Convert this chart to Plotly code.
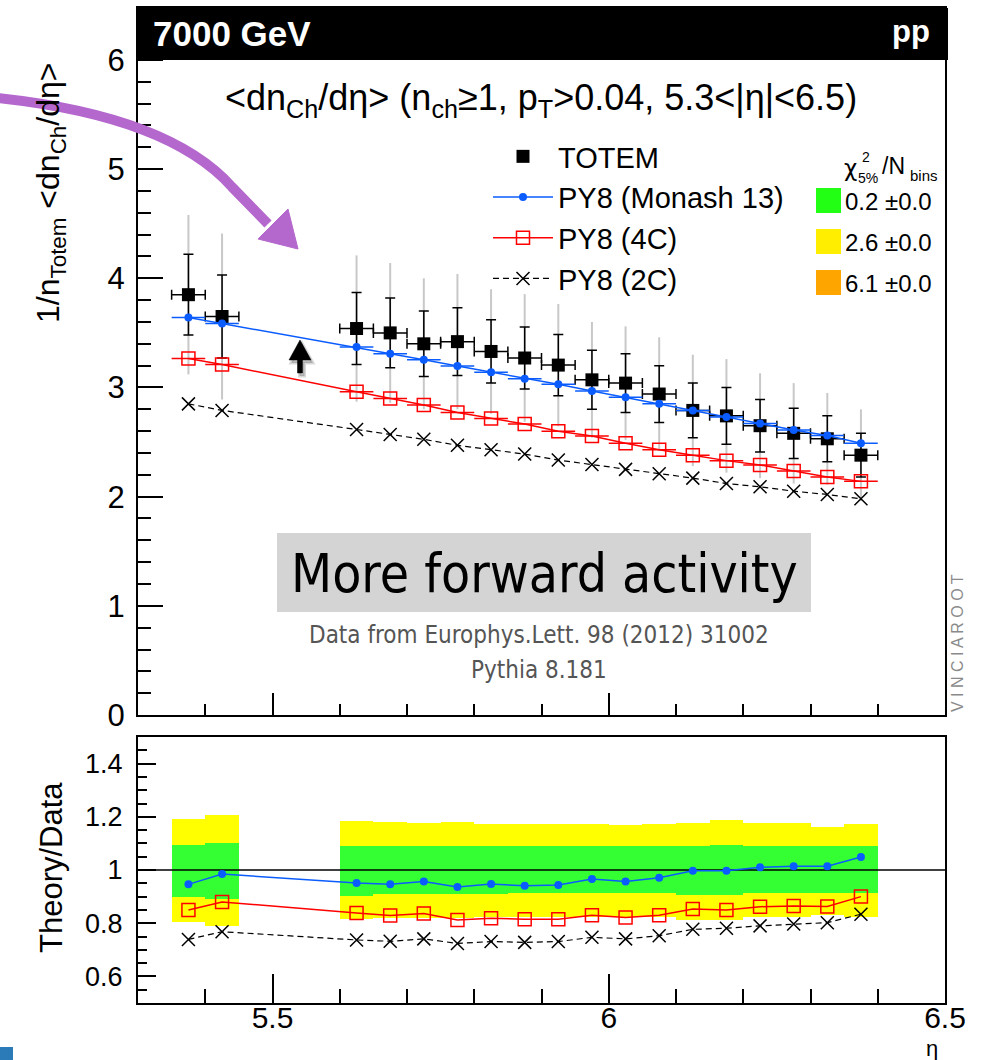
import plotly.graph_objects as go

# ---------------- data ----------------
eta = [5.375, 5.425, 5.625, 5.675, 5.725, 5.775, 5.825, 5.875, 5.925,
       5.975, 6.025, 6.075, 6.125, 6.175, 6.225, 6.275, 6.325, 6.375]
bin_halfwidth = [0.025] * 18

totem = [3.85, 3.65, 3.54, 3.50, 3.40, 3.42, 3.33, 3.27, 3.205,
         3.07, 3.04, 2.94, 2.79, 2.74, 2.65, 2.58, 2.53, 2.38]
totem_stat = [0.37, 0.38, 0.33, 0.32, 0.30, 0.31, 0.29, 0.285, 0.28,
              0.27, 0.27, 0.26, 0.25, 0.26, 0.24, 0.23, 0.21, 0.20]
totem_tot = [0.73, 0.76, 0.67, 0.64, 0.60, 0.62, 0.57, 0.585, 0.56,
             0.53, 0.52, 0.52, 0.51, 0.52, 0.48, 0.46, 0.42, 0.42]

monash = [3.64, 3.585, 3.37, 3.31, 3.255, 3.196, 3.14, 3.08, 3.03,
          2.967, 2.91, 2.85, 2.79, 2.73, 2.67, 2.61, 2.56, 2.49]
py4c = [3.265, 3.21, 2.96, 2.90, 2.84, 2.77, 2.715, 2.665, 2.60,
        2.555, 2.49, 2.43, 2.38, 2.33, 2.29, 2.234, 2.18, 2.14]
py2c = [2.85, 2.79, 2.615, 2.57, 2.525, 2.47, 2.43, 2.39, 2.335,
        2.295, 2.25, 2.21, 2.17, 2.12, 2.09, 2.05, 2.02, 1.98]

r_monash = [0.946, 0.985, 0.951, 0.946, 0.957, 0.936, 0.947, 0.941, 0.944,
            0.966, 0.957, 0.971, 0.997, 0.997, 1.010, 1.014, 1.014, 1.049]
r_4c = [0.850, 0.880, 0.838, 0.829, 0.836, 0.812, 0.819, 0.815, 0.815,
        0.830, 0.821, 0.830, 0.853, 0.850, 0.862, 0.865, 0.863, 0.900]
r_2c = [0.739, 0.768, 0.737, 0.732, 0.741, 0.724, 0.731, 0.728, 0.731,
        0.747, 0.741, 0.753, 0.777, 0.781, 0.790, 0.797, 0.802, 0.834]

green_hi = [1.095, 1.102, 1.092, 1.092, 1.089, 1.092, 1.089, 1.089, 1.089,
            1.089, 1.089, 1.089, 1.091, 1.095, 1.089, 1.089, 1.089, 1.089]
green_lo = [0.900, 0.892, 0.904, 0.909, 0.910, 0.909, 0.910, 0.912, 0.912,
            0.912, 0.912, 0.912, 0.907, 0.907, 0.912, 0.912, 0.912, 0.914]
yellow_hi = [1.191, 1.208, 1.186, 1.182, 1.175, 1.182, 1.172, 1.172, 1.172,
             1.172, 1.170, 1.172, 1.176, 1.189, 1.176, 1.176, 1.161, 1.172]
yellow_lo = [0.805, 0.791, 0.814, 0.818, 0.821, 0.818, 0.822, 0.822, 0.822,
             0.822, 0.822, 0.822, 0.813, 0.813, 0.822, 0.822, 0.830, 0.822]

chi2_labels = ["0.2 ±0.0", "2.6 ±0.0", "6.1 ±0.0"]
chi2_colors = ["#22ff14", "#ffee00", "#ffa500"]

x_range = [5.3, 6.5]
y_range_main = [0, 6.476]
y_range_ratio = [0.5, 1.5]
ratio_ref = 1.0
x_ticks = [5.5, 6.0, 6.5]
x_ticktext = ["5.5", "6", "6.5"]
ratio_ticks = [0.6, 0.8, 1.0, 1.2, 1.4]
ratio_ticktext = ["0.6", "0.8", "1", "1.2", "1.4"]

# ---------------- layout helpers (pixels -> paper) ----------------
W, H = 984, 1060


def px(x):
    return x / W


def py(y):
    return 1 - y / H


FONT = "Liberation Sans, Arial, Helvetica, sans-serif"
NARROW = "Liberation Sans Narrow, Arial Narrow, DejaVu Sans Condensed, sans-serif"
BLUE = "#0a5cff"
RED = "#ff0000"
DASH = "6px,4px"

L, R = 138, 945
MAIN_T, MAIN_B = 8, 715
RAT_T, RAT_B = 737, 1003

fig = go.Figure()

# ---------------- main panel ----------------
fig.add_trace(go.Scatter(
    x=eta, y=totem, mode="markers", marker=dict(size=1, opacity=0),
    error_y=dict(type="data", array=totem_tot, color="#c8c8c8", thickness=2, width=0),
    showlegend=False, hoverinfo="skip", xaxis="x", yaxis="y"))
fig.add_trace(go.Scatter(
    x=eta, y=totem, mode="markers", name="TOTEM",
    marker=dict(symbol="square", size=13, color="black"),
    error_y=dict(type="data", array=totem_stat, color="black", thickness=1.5, width=5),
    error_x=dict(type="data", array=bin_halfwidth, color="black", thickness=1.5, width=5),
    xaxis="x", yaxis="y"))
fig.add_trace(go.Scatter(
    x=eta, y=monash, mode="lines+markers", name="PY8 (Monash 13)",
    line=dict(color=BLUE, width=1.5),
    marker=dict(symbol="circle", size=8, color=BLUE),
    error_x=dict(type="data", array=bin_halfwidth, color=BLUE, thickness=1.5, width=0),
    xaxis="x", yaxis="y"))
fig.add_trace(go.Scatter(
    x=eta, y=py4c, mode="lines+markers", name="PY8 (4C)",
    line=dict(color=RED, width=1.5),
    marker=dict(symbol="square-open", size=13, color=RED, line=dict(width=1.5, color=RED)),
    error_x=dict(type="data", array=bin_halfwidth, color=RED, thickness=1.5, width=0),
    xaxis="x", yaxis="y"))
fig.add_trace(go.Scatter(
    x=eta, y=py2c, mode="lines+markers", name="PY8 (2C)",
    line=dict(color="black", width=1.2, dash=DASH),
    marker=dict(symbol="x-thin-open", size=13, color="black", line=dict(width=1.5, color="black")),
    xaxis="x", yaxis="y"))

# ---------------- ratio panel ----------------
bw = [2 * h for h in bin_halfwidth]
fig.add_trace(go.Bar(
    x=eta, y=[h - l for h, l in zip(yellow_hi, yellow_lo)], base=yellow_lo, width=bw,
    marker=dict(color="#ffff00", line=dict(width=0)), showlegend=False,
    hoverinfo="skip", xaxis="x2", yaxis="y2"))
fig.add_trace(go.Bar(
    x=eta, y=[h - l for h, l in zip(green_hi, green_lo)], base=green_lo, width=bw,
    marker=dict(color="#33ff33", line=dict(width=0)), showlegend=False,
    hoverinfo="skip", xaxis="x2", yaxis="y2"))
fig.add_trace(go.Scatter(
    x=x_range, y=[ratio_ref, ratio_ref], mode="lines",
    line=dict(color="black", width=1.3), showlegend=False, hoverinfo="skip",
    xaxis="x2", yaxis="y2"))
fig.add_trace(go.Scatter(
    x=eta, y=r_monash, mode="lines+markers", line=dict(color=BLUE, width=1.5),
    marker=dict(symbol="circle", size=8, color=BLUE), showlegend=False,
    xaxis="x2", yaxis="y2"))
fig.add_trace(go.Scatter(
    x=eta, y=r_4c, mode="lines+markers", line=dict(color=RED, width=1.5),
    marker=dict(symbol="square-open", size=13, color=RED, line=dict(width=1.5, color=RED)),
    showlegend=False, xaxis="x2", yaxis="y2"))
fig.add_trace(go.Scatter(
    x=eta, y=r_2c, mode="lines+markers", line=dict(color="black", width=1.2, dash=DASH),
    marker=dict(symbol="x-thin-open", size=13, color="black", line=dict(width=1.5, color="black")),
    showlegend=False, xaxis="x2", yaxis="y2"))

axis_common = dict(showline=True, linecolor="black", linewidth=2, mirror=True,
                   showgrid=False, zeroline=False, ticks="inside", tickcolor="black",
                   tickwidth=1.5, automargin=False)

fig.update_layout(
    width=W, height=H, margin=dict(l=0, r=0, t=0, b=0),
    paper_bgcolor="white", plot_bgcolor="white",
    font=dict(family=FONT, color="black"),
    barmode="overlay", bargap=0,
    xaxis=dict(domain=[px(L), px(R)], range=x_range, anchor="y",
               tickvals=x_ticks, ticklen=22, showticklabels=False,
               minor=dict(ticks="inside", dtick=0.1, tick0=5.3, ticklen=11,
                          tickcolor="black", tickwidth=1.5),
               **axis_common),
    yaxis=dict(domain=[py(MAIN_B), py(MAIN_T)], range=y_range_main, anchor="x",
               dtick=1, tick0=0, ticklen=25, tickfont=dict(size=31),
               ticklabelstandoff=5,
               minor=dict(ticks="inside", dtick=0.2, tick0=0, ticklen=13,
                          tickcolor="black", tickwidth=1.5),
               **axis_common),
    xaxis2=dict(domain=[px(L), px(R)], range=x_range, anchor="y2",
                tickvals=x_ticks, ticktext=x_ticktext, ticklen=29,
                tickfont=dict(size=30), ticklabelstandoff=-13,
                minor=dict(ticks="inside", dtick=0.1, tick0=5.3, ticklen=14,
                           tickcolor="black", tickwidth=1.5),
                **axis_common),
    yaxis2=dict(domain=[py(RAT_B), py(RAT_T)], range=y_range_ratio, anchor="x2",
                tickvals=ratio_ticks, ticktext=ratio_ticktext, ticklen=18,
                tickfont=dict(size=27), ticklabelstandoff=8,
                minor=dict(ticks="inside", dtick=0.05, tick0=0.5, ticklen=9,
                           tickcolor="black", tickwidth=1.5),
                **axis_common),
    legend=dict(x=px(488), y=py(131), xanchor="left", yanchor="top",
                bgcolor="rgba(0,0,0,0)", font=dict(size=29, family=FONT),
                itemwidth=60, tracegroupgap=0, itemclick=False),
    showlegend=True,
)

shapes = []
# header bar
shapes.append(dict(type="rect", xref="paper", yref="paper", x0=px(138), x1=px(948),
                   y0=py(60), y1=py(8), fillcolor="black", line=dict(width=0), layer="above"))
# grey box
shapes.append(dict(type="rect", xref="paper", yref="paper", x0=px(277), x1=px(811),
                   y0=py(612), y1=py(533), fillcolor="#d4d4d4", line=dict(width=0), layer="above"))
# chi2 colour boxes
for i, c in enumerate(chi2_colors):
    top = 188 + i * 41
    shapes.append(dict(type="rect", xref="paper", yref="paper", x0=px(816), x1=px(841),
                       y0=py(top + 25), y1=py(top), fillcolor=c, line=dict(width=0), layer="above"))


def path(points, close=False):
    s = "M " + " L ".join(f"{px(x):.5f},{py(y):.5f}" for x, y in points)
    return s + (" Z" if close else "")


# purple curved arrow
p0, c1, c2, p3 = (-3, 98), (110, 110), (190, 140), (232, 187)
curve = (f"M {px(p0[0]):.5f},{py(p0[1]):.5f} C {px(c1[0]):.5f},{py(c1[1]):.5f} "
         f"{px(c2[0]):.5f},{py(c2[1]):.5f} {px(p3[0]):.5f},{py(p3[1]):.5f} "
         f"L {px(268):.5f},{py(224):.5f}")
shapes.append(dict(type="path", xref="paper", yref="paper", path=curve,
                   line=dict(color="#b467cc", width=10), fillcolor="rgba(0,0,0,0)", layer="above"))
shapes.append(dict(type="path", xref="paper", yref="paper",
                   path=path([(258, 239), (288, 209), (298, 249)], close=True),
                   line=dict(color="#b467cc", width=1), fillcolor="#b467cc", layer="above"))

# small black up-arrow with soft shadow
arrow_pts = [(300, 340), (289, 360), (297.5, 360), (297.5, 373), (302.5, 373), (302.5, 360), (311, 360)]
shapes.append(dict(type="path", xref="paper", yref="paper",
                   path=path([(x + 2, y + 3) for x, y in arrow_pts], close=True),
                   line=dict(color="rgba(0,0,0,0.15)", width=3), fillcolor="rgba(0,0,0,0.2)", layer="above"))
shapes.append(dict(type="path", xref="paper", yref="paper", path=path(arrow_pts, close=True),
                   line=dict(color="black", width=0.5), fillcolor="black", layer="above"))

# fragment of a logo in the lower-left corner
shapes.append(dict(type="rect", xref="paper", yref="paper", x0=0, x1=px(13),
                   y0=0, y1=py(1047), fillcolor="#2b7bb9", line=dict(width=0), layer="above"))

fig.update_layout(shapes=shapes)


def ann(text, x, y, size, xanchor="center", yanchor="middle", color="black",
        family=FONT, angle=0):
    return dict(text=text, x=px(x), y=py(y), xref="paper", yref="paper",
                xanchor=xanchor, yanchor=yanchor, showarrow=False, textangle=angle,
                font=dict(size=size, color=color, family=family))


annotations = [
    ann("<b>7000 GeV</b>", 151, 33, 35, xanchor="left", color="white"),
    ann("<b>pp</b>", 932, 31, 31, xanchor="right", color="white"),
    ann("&lt;dn<sub>Ch</sub>/dη&gt; (n<sub>ch</sub>≥1, p<sub>T</sub>&gt;0.04, 5.3&lt;|η|&lt;6.5)",
        541, 100, 36),
    ann("1/n<sub>Totem</sub> &lt;dn<sub>Ch</sub>/dη&gt;", 50, 193, 32, angle=-90),
    ann("Theory/Data", 51, 868, 31, angle=-90),
    ann("η", 932, 1048, 22),
    ann("χ", 850, 168, 23, family="DejaVu Sans, sans-serif"),
    ann("2", 866, 157, 14),
    ann("5%", 868, 178, 14),
    ann("/N", 880, 166, 23, xanchor="left"),
    ann("bins", 908, 175, 15, xanchor="left"),
    ann("More forward activity", 544, 573, 53, family="DejaVu Sans Condensed, DejaVu Sans, sans-serif"),
    ann("Data from Europhys.Lett. 98 (2012) 31002", 539, 635, 24, color="#555555", family=NARROW),
    ann("Pythia 8.181", 539, 670, 24, color="#555555", family=NARROW),
    ann("V I N C I A R O O T", 957, 643, 16, color="#8a8a8a", angle=-90),
]
for i, lab in enumerate(chi2_labels):
    annotations.append(ann(lab, 843, 201 + i * 41, 24, xanchor="left"))

fig.update_layout(annotations=annotations)

fig.write_html("out.html")
